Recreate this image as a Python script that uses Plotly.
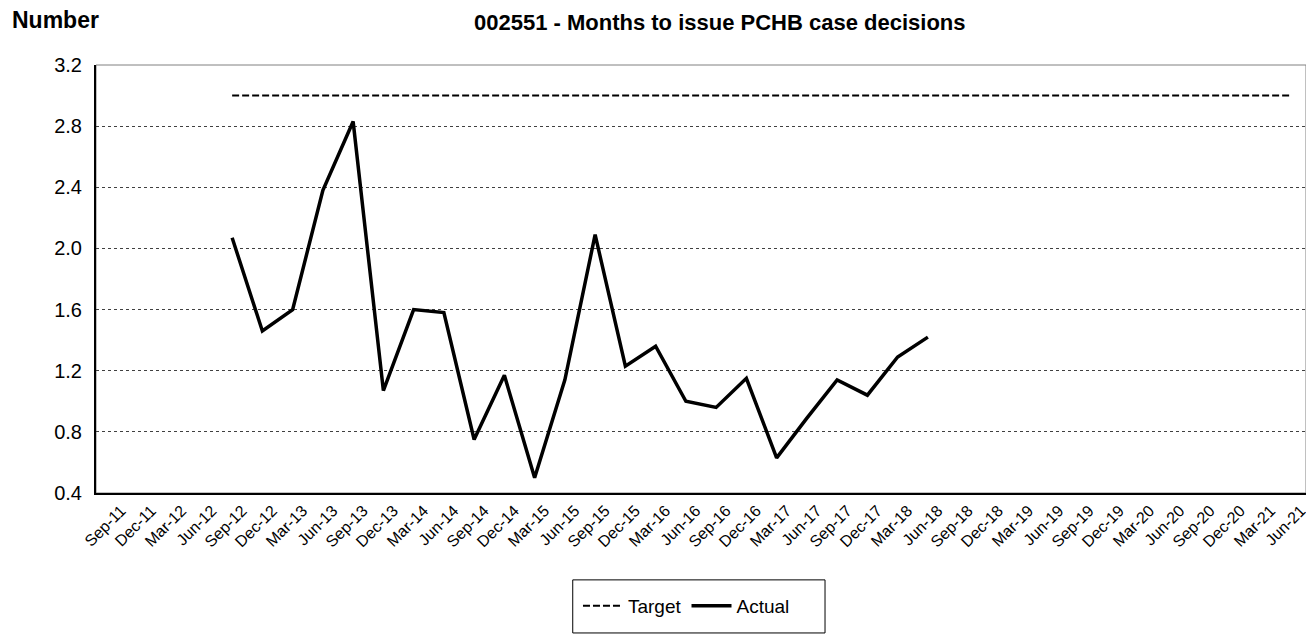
import plotly.graph_objects as go

quarters = ["Sep-11", "Dec-11", "Mar-12", "Jun-12", "Sep-12", "Dec-12", "Mar-13", "Jun-13",
            "Sep-13", "Dec-13", "Mar-14", "Jun-14", "Sep-14", "Dec-14", "Mar-15", "Jun-15",
            "Sep-15", "Dec-15", "Mar-16", "Jun-16", "Sep-16", "Dec-16", "Mar-17", "Jun-17",
            "Sep-17", "Dec-17", "Mar-18", "Jun-18", "Sep-18", "Dec-18", "Mar-19", "Jun-19",
            "Sep-19", "Dec-19", "Mar-20", "Jun-20", "Sep-20", "Dec-20", "Mar-21", "Jun-21"]

target = [None] * 4 + [3.0] * 36

actual = [None, None, None, None,
          2.07, 1.46, 1.60, 2.38, 2.83, 1.07, 1.60, 1.58, 0.75, 1.17, 0.50, 1.14,
          2.09, 1.23, 1.36, 1.00, 0.96, 1.15, 0.63, 0.89, 1.14, 1.04, 1.29, 1.42] + [None] * 12

y_ticks = [0.4, 0.8, 1.2, 1.6, 2.0, 2.4, 2.8, 3.2]
y_tick_labels = ["0.4", "0.8", "1.2", "1.6", "2.0", "2.4", "2.8", "3.2"]

font_family = "Liberation Sans, Arial, sans-serif"

fig = go.Figure()
fig.add_trace(go.Scatter(x=quarters, y=target, mode="lines", name="Target",
                         line=dict(color="black", width=2, dash="7px,3px")))
fig.add_trace(go.Scatter(x=quarters, y=actual, mode="lines", name="Actual",
                         line=dict(color="black", width=3.5)))

fig.update_layout(
    width=1306, height=626,
    margin=dict(l=88, r=8, t=57, b=141, autoexpand=False),
    paper_bgcolor="white", plot_bgcolor="white",
    font=dict(family=font_family, color="black", size=18),
    showlegend=True,
    legend=dict(orientation="h", x=0.488, xanchor="center", y=-0.264, yanchor="middle",
                borderwidth=0, bgcolor="rgba(0,0,0,0)", font=dict(size=19),
                itemwidth=40, tracegroupgap=0),
    annotations=[
        dict(text="<b>Number</b>", xref="paper", yref="paper", x=-0.071, y=1.104,
             xanchor="left", yanchor="middle", showarrow=False, font=dict(size=23)),
        dict(text="<b>002551 - Months to issue PCHB case decisions</b>", xref="paper", yref="paper",
             x=0.516, y=1.1, xanchor="center", yanchor="middle", showarrow=False,
             font=dict(size=22)),
    ],
    shapes=[
        dict(type="rect", xref="paper", yref="paper", x0=0, x1=1, y0=0, y1=1,
             line=dict(color="#808080", width=1), layer="below"),
        dict(type="rect", xref="paper", yref="paper", x0=0.394, x1=0.6025, y0=-0.327, y1=-0.203,
             line=dict(color="black", width=1), fillcolor="rgba(0,0,0,0)", layer="below"),
    ],
)

fig.update_xaxes(type="category", categoryorder="array", categoryarray=quarters,
                 tickangle=-45, tickfont=dict(size=16), showgrid=False,
                 showline=True, linecolor="black", linewidth=2, ticks="",
                 ticklabelshift=10,
                 range=[-0.5, len(quarters) - 0.5])
fig.update_yaxes(range=[0.4, 3.2], tickvals=y_ticks, ticktext=y_tick_labels,
                 tickfont=dict(size=20), showgrid=True, gridcolor="#404040",
                 griddash="dot", gridwidth=1, showline=True, linecolor="black",
                 linewidth=2, ticks="", zeroline=False, ticklabelstandoff=8)

fig.write_html("out.html")
